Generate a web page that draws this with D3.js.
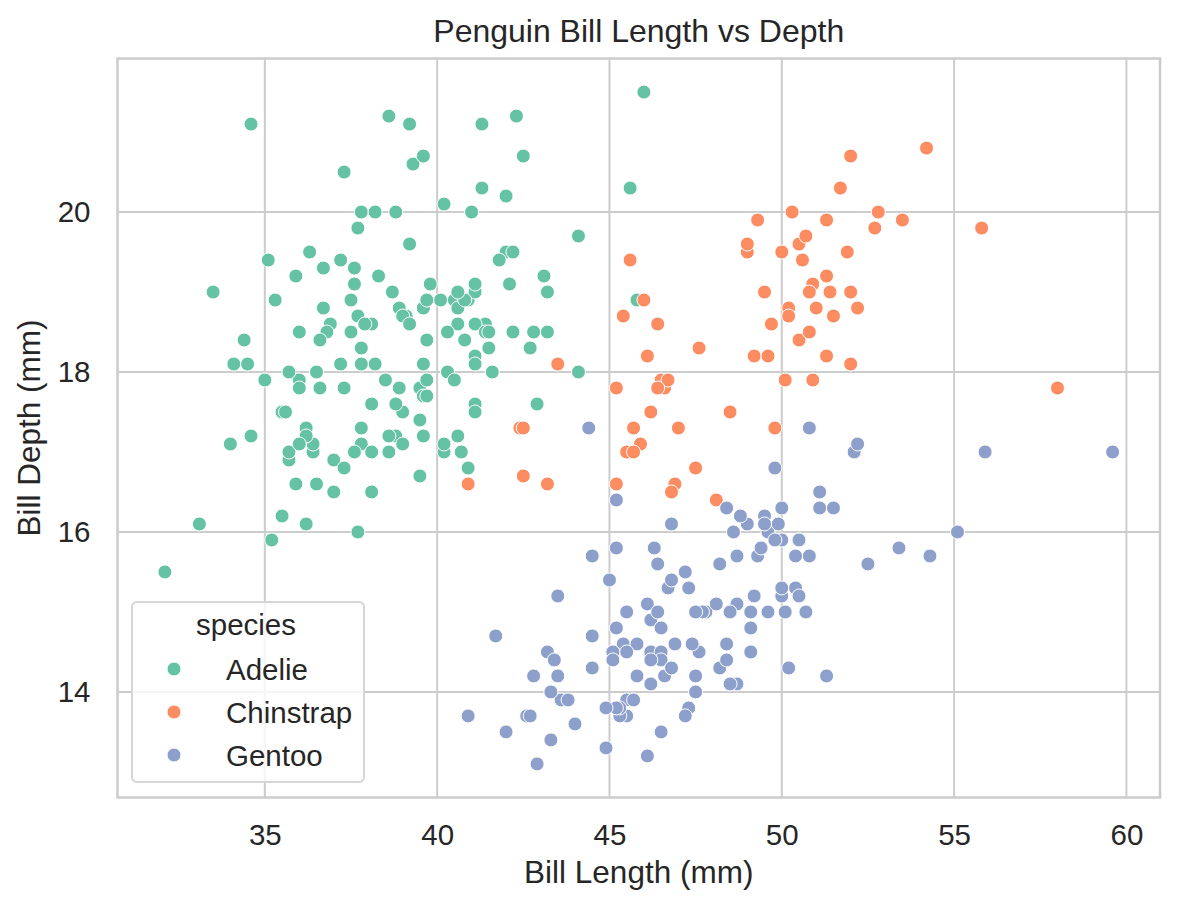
<!DOCTYPE html>
<html>
<head>
<meta charset="utf-8">
<script src="https://cdn.jsdelivr.net/npm/d3@7"></script>
<style>
body { margin: 0; background: #fff; }
text { font-family: "Liberation Sans", Arial, sans-serif; fill: #262626; }
</style>
</head>
<body>
<svg id="chart"></svg>
<script>
// bill length, bill depth (mm)
const adelie = [
  [39.1,18.7],[39.5,17.4],[40.3,18.0],[36.7,19.3],[39.3,20.6],[38.9,17.8],[39.2,19.6],[34.1,18.1],[42.0,20.2],[37.8,17.1],
  [37.8,17.3],[41.1,17.6],[38.6,21.2],[34.6,21.1],[36.6,17.8],[38.7,19.0],[42.5,20.7],[34.4,18.4],[46.0,21.5],[37.8,18.3],
  [37.7,18.7],[35.9,19.2],[38.2,18.1],[38.8,17.2],[35.3,18.9],[40.6,18.6],[40.5,17.9],[37.9,18.6],[40.5,18.9],[39.5,16.7],
  [37.2,18.1],[39.5,17.8],[40.9,18.9],[36.4,17.0],[39.2,21.1],[38.8,20.0],[42.2,18.5],[37.6,19.3],[39.8,19.1],[36.5,18.0],
  [40.8,18.4],[36.0,18.5],[44.1,19.7],[37.0,16.9],[39.6,18.8],[41.1,19.0],[37.5,18.9],[36.0,17.9],[42.3,21.2],[39.6,17.7],
  [40.1,18.9],[35.0,17.9],[42.0,19.5],[34.5,18.1],[41.4,18.6],[39.0,17.5],[40.6,18.8],[36.5,16.6],[37.6,19.1],[35.7,16.9],
  [41.3,21.1],[37.6,17.0],[41.1,18.2],[36.4,17.1],[41.6,18.0],[35.5,16.2],[41.1,19.1],[35.9,16.6],[41.8,19.4],[33.5,19.0],
  [39.7,18.4],[39.6,17.2],[45.8,18.9],[35.5,17.5],[42.8,18.5],[40.9,16.8],[37.2,19.4],[36.2,16.1],[42.1,19.1],[34.6,17.2],
  [42.9,17.6],[36.7,18.8],[35.1,19.4],[37.3,17.8],[41.3,20.3],[36.3,19.5],[36.9,18.6],[38.3,19.2],[38.9,18.8],[35.7,18.0],
  [41.1,18.1],[34.0,17.1],[39.6,18.1],[36.2,17.3],[40.8,18.9],[38.1,18.6],[40.3,18.5],[33.1,16.1],[43.2,18.5],[35.0,17.9],
  [41.0,20.0],[37.7,16.0],[37.8,20.0],[37.9,18.6],[39.7,18.9],[38.6,17.2],[38.2,20.0],[38.1,17.0],[43.2,19.0],[38.1,16.5],
  [45.6,20.3],[39.7,17.7],[42.2,19.5],[39.6,20.7],[42.7,18.3],[38.6,17.0],[37.3,20.5],[35.7,17.0],[41.1,18.6],[36.2,17.2],
  [37.7,19.8],[40.2,17.0],[41.4,18.5],[35.2,15.9],[40.6,19.0],[38.8,17.6],[41.5,18.3],[39.0,17.1],[44.1,18.0],[38.5,17.9],
  [43.1,19.2],[36.8,18.5],[37.5,18.5],[38.1,17.6],[41.1,17.5],[35.6,17.5],[40.2,20.1],[37.0,16.5],[39.7,17.9],[40.2,17.1],
  [40.6,17.2],[32.1,15.5],[40.7,17.0],[37.3,16.8],[39.0,18.7],[39.2,18.6],[36.6,18.4],[36.0,17.8],[37.8,18.1],[36.0,17.1],
  [41.5,18.5]
];
const chinstrap = [
  [46.5,17.9],[50.0,19.5],[51.3,19.2],[45.4,18.7],[52.7,19.8],[45.2,17.8],[46.1,18.2],[51.3,18.2],[46.0,18.9],[51.3,19.9],
  [46.6,17.8],[51.7,20.3],[47.0,17.3],[52.0,18.1],[45.9,17.1],[50.5,19.6],[50.3,20.0],[58.0,17.8],[46.4,18.6],[49.2,18.2],
  [42.4,17.3],[48.5,17.5],[43.2,16.6],[50.6,19.4],[46.7,17.9],[52.0,19.0],[50.5,18.4],[49.5,19.0],[46.4,17.8],[52.8,20.0],
  [40.9,16.6],[54.2,20.8],[42.5,16.7],[51.0,18.8],[49.7,18.6],[47.5,16.8],[47.6,18.3],[52.0,20.7],[46.9,16.6],[53.5,19.9],
  [49.0,19.5],[46.2,17.5],[50.9,19.1],[45.5,17.0],[50.9,17.9],[50.8,18.5],[50.1,17.9],[49.0,19.6],[51.5,18.7],[49.8,17.3],
  [48.1,16.4],[51.4,19.0],[45.7,17.3],[50.7,19.7],[42.5,17.3],[52.2,18.8],[45.2,16.6],[49.3,19.9],[50.2,18.8],[45.6,19.4],
  [51.9,19.5],[46.8,16.5],[45.7,17.0],[55.8,19.8],[43.5,18.1],[49.6,18.2],[50.8,19.0],[50.2,18.7]
];
const gentoo = [
  [46.1,13.2],[50.0,16.3],[48.7,14.1],[50.0,15.2],[47.6,14.5],[46.5,13.5],[45.4,14.6],[46.7,15.3],[43.3,13.4],[46.8,15.4],
  [40.9,13.7],[49.0,16.1],[45.5,13.7],[48.4,14.6],[45.8,14.6],[49.3,15.7],[42.0,13.5],[49.2,15.2],[46.2,14.5],[48.7,15.1],
  [50.2,14.3],[45.1,14.5],[46.5,14.5],[46.3,15.8],[42.9,13.1],[46.1,15.1],[44.5,14.3],[47.8,15.0],[48.2,14.3],[50.0,15.3],
  [47.3,15.3],[42.8,14.2],[45.1,14.5],[59.6,17.0],[49.1,14.8],[48.4,16.3],[42.6,13.7],[44.4,17.3],[44.0,13.6],[48.7,15.7],
  [42.7,13.7],[49.6,16.0],[45.3,13.7],[49.6,15.0],[50.5,15.9],[43.6,13.9],[45.5,13.9],[50.5,15.9],[44.9,13.3],[45.2,15.8],
  [46.6,14.2],[48.5,14.1],[45.1,14.4],[50.1,15.0],[46.5,14.4],[45.0,15.4],[43.8,13.9],[45.5,15.0],[43.2,14.5],[50.4,15.3],
  [45.3,13.8],[46.2,14.9],[45.7,13.9],[54.3,15.7],[45.8,14.2],[49.8,16.8],[46.2,14.4],[49.5,16.2],[43.5,14.2],[50.7,15.0],
  [47.7,15.0],[46.4,15.6],[48.2,15.6],[46.5,14.8],[46.4,15.0],[48.6,16.0],[47.5,14.2],[51.1,16.3],[45.2,13.8],[45.2,16.4],
  [49.1,14.5],[52.5,15.6],[47.4,14.6],[50.0,15.9],[44.9,13.8],[50.8,17.3],[43.4,14.4],[51.3,14.2],[47.5,14.0],[52.1,17.0],
  [47.5,15.0],[52.2,17.1],[45.5,14.5],[49.5,16.1],[44.5,14.7],[50.8,15.7],[49.4,15.8],[46.9,14.6],[48.4,14.4],[51.1,16.5],
  [48.5,15.0],[55.9,17.0],[47.2,15.5],[49.1,15.0],[47.3,13.8],[46.8,16.1],[41.7,14.7],[53.4,15.8],[43.3,14.0],[48.1,15.1],
  [50.5,15.2],[49.8,15.9],[43.5,15.2],[51.5,16.3],[46.2,14.1],[55.1,16.0],[44.5,15.7],[48.8,16.2],[47.2,13.7],[46.8,14.3],
  [50.4,15.7],[45.2,14.8],[49.9,16.1]
];
const species = ["Adelie", "Chinstrap", "Gentoo"];
const colors = ["#66c2a5", "#fc8d62", "#8da0cb"];
const xTicks = [35, 40, 45, 50, 55, 60];
const yTicks = [14, 16, 18, 20];

const W = 1177, H = 909;
const plotLeft = 117.5, plotRight = 1160, plotTop = 58.5, plotBottom = 797.5;

const svg = d3.select("#chart").attr("width", W).attr("height", H);

const groups = [adelie, chinstrap, gentoo];
const points = [];
groups.forEach((g, i) => g.forEach(p => points.push({ x: p[0], y: p[1], s: i })));

// matplotlib-style 5% margins
const xExt = d3.extent(points, d => d.x), yExt = d3.extent(points, d => d.y);
const xPad = (xExt[1] - xExt[0]) * 0.05, yPad = (yExt[1] - yExt[0]) * 0.05;

const x = d3.scaleLinear().domain([xExt[0] - xPad, xExt[1] + xPad]).range([plotLeft, plotRight]);
const y = d3.scaleLinear().domain([yExt[0] - yPad, yExt[1] + yPad]).range([plotBottom, plotTop]);

// grid
svg.append("g").selectAll("line").data(xTicks).enter().append("line")
    .attr("x1", d => x(d)).attr("x2", d => x(d))
    .attr("y1", plotTop).attr("y2", plotBottom)
    .attr("stroke", "#cccccc").attr("stroke-width", 2);
svg.append("g").selectAll("line").data(yTicks).enter().append("line")
    .attr("y1", d => y(d)).attr("y2", d => y(d))
    .attr("x1", plotLeft).attr("x2", plotRight)
    .attr("stroke", "#cccccc").attr("stroke-width", 2);

// axes tick labels
const xAxis = svg.append("g").attr("transform", `translate(0,${plotBottom})`)
    .call(d3.axisBottom(x).tickValues(xTicks).tickSize(0).tickPadding(25));
const yAxis = svg.append("g").attr("transform", `translate(${plotLeft},0)`)
    .call(d3.axisLeft(y).tickValues(yTicks).tickSize(0).tickPadding(27));
[xAxis, yAxis].forEach(a => {
  a.select(".domain").remove();
  a.selectAll("text").attr("font-size", 29.5).attr("fill", "#262626")
    .style("font-family", "'Liberation Sans', Arial, sans-serif");
});
xAxis.selectAll("text").attr("dy", "0.75em");

// points
svg.append("g").selectAll("circle").data(points).enter().append("circle")
    .attr("cx", d => x(d.x)).attr("cy", d => y(d.y))
    .attr("r", 7)
    .attr("fill", d => colors[d.s])
    .attr("stroke", "#fff").attr("stroke-width", 1);

// frame
svg.append("rect")
    .attr("x", plotLeft).attr("y", plotTop)
    .attr("width", plotRight - plotLeft).attr("height", plotBottom - plotTop)
    .attr("fill", "none").attr("stroke", "#cccccc").attr("stroke-width", 2.5);

// titles
svg.append("text").attr("x", (plotLeft + plotRight) / 2).attr("y", 42)
    .attr("text-anchor", "middle").attr("font-size", 32)
    .text("Penguin Bill Length vs Depth");
svg.append("text").attr("x", (plotLeft + plotRight) / 2).attr("y", 883)
    .attr("text-anchor", "middle").attr("font-size", 31.5)
    .text("Bill Length (mm)");
svg.append("text")
    .attr("transform", `translate(40,${(plotTop + plotBottom) / 2}) rotate(-90)`)
    .attr("text-anchor", "middle").attr("font-size", 31.5)
    .text("Bill Depth (mm)");

// legend
const lg = svg.append("g");
lg.append("rect").attr("x", 132).attr("y", 602).attr("width", 232).attr("height", 180)
    .attr("rx", 5).attr("fill", "#fff").attr("fill-opacity", 0.8)
    .attr("stroke", "#d6d6d6").attr("stroke-width", 2);
lg.append("text").attr("x", 246).attr("y", 635).attr("text-anchor", "middle")
    .attr("font-size", 29.5).text("species");
const entry = lg.selectAll(".entry").data(species).enter().append("g")
    .attr("transform", (d, i) => `translate(0,${669 + i * 43})`);
entry.append("circle").attr("cx", 174).attr("cy", 0).attr("r", 7)
    .attr("fill", (d, i) => colors[i]).attr("stroke", "#fff").attr("stroke-width", 1);
entry.append("text").attr("x", 226).attr("y", 11).attr("font-size", 29.5).text(d => d);
</script>
</body>
</html>
